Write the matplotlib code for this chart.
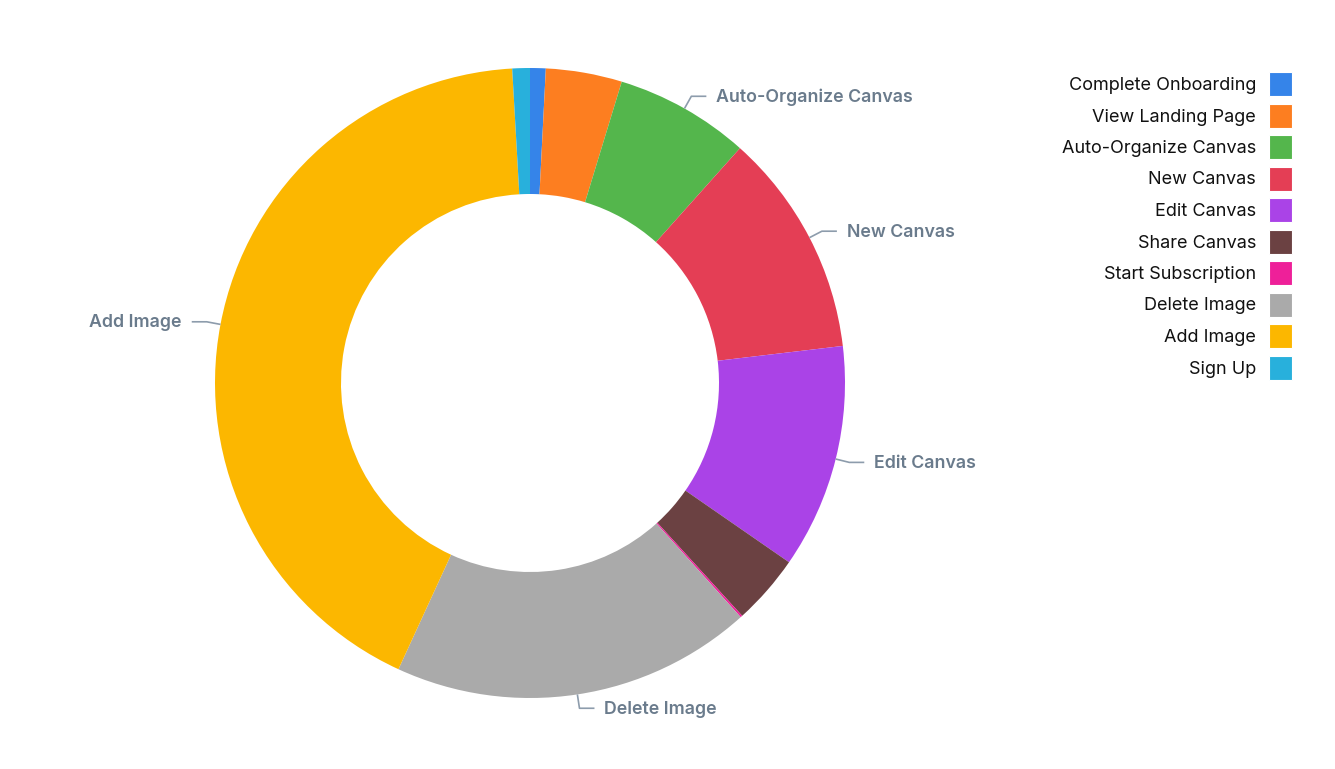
import numpy as np
import matplotlib.pyplot as plt
from matplotlib.patches import Rectangle

plt.rcParams['font.family'] = ['Inter', 'DejaVu Sans']

# event counts, clockwise from 12 o'clock
events = ['Complete Onboarding', 'View Landing Page', 'Auto-Organize Canvas', 'New Canvas',
          'Edit Canvas', 'Share Canvas', 'Start Subscription', 'Delete Image', 'Add Image', 'Sign Up']
counts = [8, 39, 69, 115, 115, 36, 1, 185, 422, 9]
colors = ['#3584e9', '#fd7e20', '#54b64c', '#e43e55', '#aa43e7',
          '#6b4142', '#ee2099', '#aaaaaa', '#fcb700', '#28b0dc']
labeled = ['Auto-Organize Canvas', 'New Canvas', 'Edit Canvas', 'Delete Image', 'Add Image']

W, H = 1335, 769
fig = plt.figure(figsize=(W / 100, H / 100), dpi=100)
ax = fig.add_axes([0, 0, 1, 1])

cx, cy, R = 530, H - 383, 315
wedges, _ = ax.pie(counts, colors=colors, startangle=90, counterclock=False,
                   center=(cx, cy), radius=R, frame=True,
                   wedgeprops=dict(width=126, linewidth=0))
ax.set_xlim(0, W)
ax.set_ylim(0, H)
ax.set_aspect('equal')
ax.axis('off')

label_color = '#6a7b8c'
line_color = '#8d9cac'
for w, name in zip(wedges, events):
    if name not in labeled:
        continue
    ang = np.deg2rad((w.theta1 + w.theta2) / 2)
    x0, y0 = cx + R * np.cos(ang), cy + R * np.sin(ang)
    x1, y1 = cx + (R + 14) * np.cos(ang), cy + (R + 14) * np.sin(ang)
    side = 1 if np.cos(ang) >= 0 else -1
    x2 = x1 + side * 15
    ax.plot([x0, x1, x2], [y0, y1, y1], color=line_color, lw=1.2, solid_capstyle='butt')
    ax.text(x2 + side * 10, y1 - 1, name, ha='left' if side > 0 else 'right', va='center',
            fontsize=12.8, fontweight='semibold', color=label_color)

# legend, labels left of swatches
for i, (name, c) in enumerate(zip(events, colors)):
    y = H - (84 + i * 31.5)
    ax.text(1256, y - 1.5, name, ha='right', va='center', fontsize=13, color='#111111')
    ax.add_patch(Rectangle((1269, y - 12), 23, 24, facecolor=c, edgecolor='white', lw=0.8))

fig.savefig('out.png', dpi=100)
